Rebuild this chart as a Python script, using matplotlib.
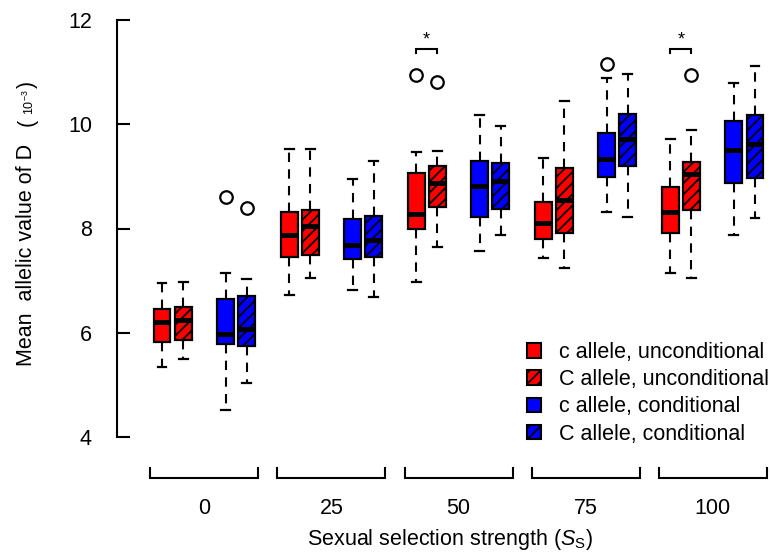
import matplotlib
matplotlib.use('Agg')
import matplotlib.pyplot as plt
from matplotlib.patches import Patch

plt.rcParams['font.family'] = ['Liberation Sans', 'DejaVu Sans']
plt.rcParams['mathtext.fontset'] = 'custom'
plt.rcParams['mathtext.rm'] = 'Liberation Sans'
plt.rcParams['mathtext.it'] = 'Liberation Sans:italic'
plt.rcParams['hatch.linewidth'] = 1.3

# groups on the x axis (sexual selection strength)
groups = ['0', '25', '50', '75', '100']

# box statistics per series, one value per group: lower whisker, Q1, median, Q3, upper whisker
c_unc_lo = [5.35, 6.72, 6.98, 7.43, 7.14]
c_unc_q1 = [5.82, 7.46, 7.99, 7.80, 7.91]
c_unc_md = [6.21, 7.88, 8.28, 8.11, 8.31]
c_unc_q3 = [6.45, 8.32, 9.07, 8.51, 8.80]
c_unc_hi = [6.95, 9.52, 9.46, 9.35, 9.71]
c_unc_out = [[], [], [10.95], [], []]

C_unc_lo = [5.50, 7.05, 7.64, 7.25, 7.05]
C_unc_q1 = [5.87, 7.49, 8.41, 7.91, 8.36]
C_unc_md = [6.24, 8.04, 8.87, 8.54, 9.05]
C_unc_q3 = [6.50, 8.36, 9.19, 9.16, 9.28]
C_unc_hi = [6.97, 9.53, 9.49, 10.45, 9.89]
C_unc_out = [[], [], [10.82], [], [10.95]]

c_con_lo = [4.52, 6.82, 7.57, 8.32, 7.88]
c_con_q1 = [5.79, 7.41, 8.23, 8.98, 8.87]
c_con_md = [5.97, 7.69, 8.82, 9.34, 9.51]
c_con_q3 = [6.64, 8.19, 9.30, 9.84, 10.06]
c_con_hi = [7.14, 8.95, 10.17, 10.88, 10.80]
c_con_out = [[8.60], [], [], [11.16], []]

C_con_lo = [5.04, 6.68, 7.87, 8.22, 8.20]
C_con_q1 = [5.74, 7.46, 8.38, 9.19, 8.97]
C_con_md = [6.08, 7.77, 8.91, 9.71, 9.62]
C_con_q3 = [6.70, 8.24, 9.26, 10.20, 10.17]
C_con_hi = [7.04, 9.30, 9.97, 10.97, 11.11]
C_con_out = [[8.39], [], [], [], []]

labels = ['c allele, unconditional', 'C allele, unconditional',
          'c allele, conditional', 'C allele, conditional']
colors = ['#ff0000', '#ff0000', '#0000ff', '#0000ff']
hatches = ['', '///', '', '///']
offsets = [1, 2, 4, 5]

# groups with a significant c vs C difference (unconditional)
signif_groups = [2, 4]

series = [
    (c_unc_lo, c_unc_q1, c_unc_md, c_unc_q3, c_unc_hi, c_unc_out),
    (C_unc_lo, C_unc_q1, C_unc_md, C_unc_q3, C_unc_hi, C_unc_out),
    (c_con_lo, c_con_q1, c_con_md, c_con_q3, c_con_hi, c_con_out),
    (C_con_lo, C_con_q1, C_con_md, C_con_q3, C_con_hi, C_con_out),
]

W, H = 771, 554
fig = plt.figure(figsize=(W / 100, H / 100), dpi=100)
ax = fig.add_axes([117 / W, (H - 437) / H, 654 / W, 417 / H])

for k, (lo, q1, md, q3, hi, out) in enumerate(series):
    stats = []
    for g in range(len(groups)):
        stats.append(dict(whislo=lo[g], q1=q1[g], med=md[g], q3=q3[g],
                          whishi=hi[g], fliers=out[g]))
    pos = [6 * g + offsets[k] for g in range(len(groups))]
    ax.bxp(stats, positions=pos, widths=0.8, capwidths=0.42,
           patch_artist=True, manage_ticks=False,
           boxprops=dict(facecolor=colors[k], edgecolor='black',
                         linewidth=1.6, hatch=hatches[k]),
           medianprops=dict(color='black', linewidth=3.6, solid_capstyle='butt'),
           whiskerprops=dict(color='black', linewidth=1.5, linestyle=(0, (4.5, 3.5))),
           capprops=dict(color='black', linewidth=1.6),
           flierprops=dict(marker='o', markerfacecolor='none',
                           markeredgecolor='black', markersize=9,
                           markeredgewidth=1.6))

# group brackets under the boxes
for g in range(len(groups)):
    x0, x1 = 6 * g + 0.45, 6 * g + 5.55
    ax.plot([x0, x0, x1, x1], [3.41, 3.22, 3.22, 3.41], color='black',
            lw=1.5, clip_on=False, solid_joinstyle='miter')

# significance brackets
for g in signif_groups:
    x0, x1 = 6 * g + 1, 6 * g + 2
    ax.plot([x0, x0, x1, x1], [11.36, 11.44, 11.44, 11.36], color='black',
            lw=1.5, solid_joinstyle='miter')
    ax.text((x0 + x1) / 2, 11.62, '*', ha='center', va='center', fontsize=13)

ax.set_xlim(-1.125, 29.755)
ax.set_ylim(4, 12)
for s in ['top', 'right', 'bottom']:
    ax.spines[s].set_visible(False)
ax.spines['left'].set_linewidth(1.5)
ax.set_yticks([4, 6, 8, 10, 12])
ax.tick_params(axis='y', direction='in', length=9, width=1.5, pad=18,
               labelsize=15.5)
ax.set_xticks([6 * g + 3 for g in range(len(groups))])
ax.set_xticklabels(groups)
ax.tick_params(axis='x', length=0, pad=44, labelsize=15.5)

fig.text(450 / W, 1 - 540 / H, r'Sexual selection strength ($S_\mathrm{S}$)',
         ha='center', va='center', fontsize=15.5)

# y label built from pieces: big parentheses round a small 10^-3
fig.text(27 / W, 1 - 255 / H, 'Mean  allelic value of D', rotation=90,
         ha='center', va='center', fontsize=15.5)
fig.text(27 / W, 1 - 122 / H, '(', rotation=90, ha='center', va='center',
         fontsize=15.5)
fig.text(29 / W, 1 - 102 / H, r'$\mathregular{10^{-3}}$', rotation=90,
         ha='center', va='center', fontsize=9)
fig.text(27 / W, 1 - 84 / H, ')', rotation=90, ha='center', va='center',
         fontsize=15.5)

handles = [Patch(facecolor=colors[k], edgecolor='black', hatch=hatches[k],
                 linewidth=1.5) for k in range(4)]
ax.legend(handles, labels, loc='upper left',
          bbox_to_anchor=(527 / W, 1 - 342 / H), bbox_transform=fig.transFigure,
          frameon=False, fontsize=15.5, handlelength=0.65, handleheight=0.65,
          handletextpad=0.85, labelspacing=0.29, borderpad=0, borderaxespad=0)

fig.savefig('out.png', dpi=100)
